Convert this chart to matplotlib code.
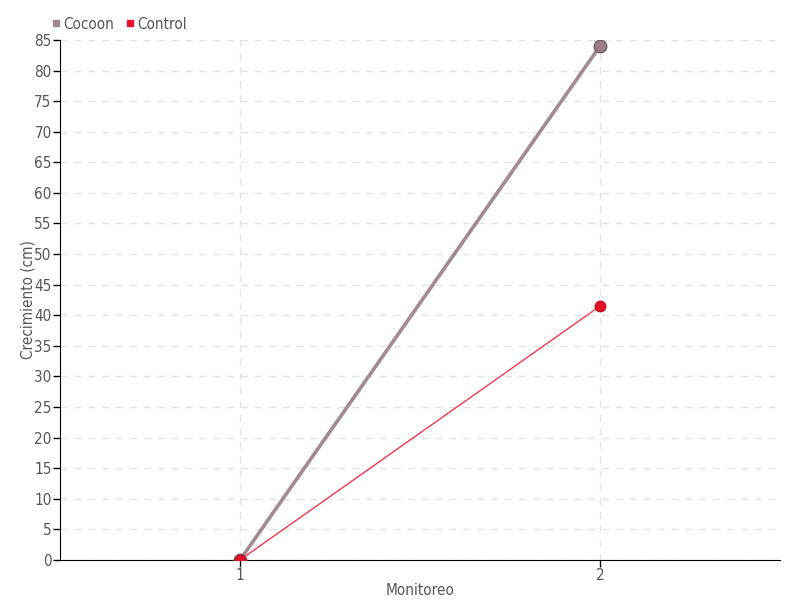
import matplotlib
matplotlib.use("Agg")
import matplotlib.pyplot as plt
from matplotlib.lines import Line2D

plt.rcParams['font.family'] = ['DejaVu Sans', 'Liberation Sans']
plt.rcParams['font.stretch'] = 'condensed'

# data
monitoreo = [1, 2]
cocoon = [0, 84]
control = [0, 41.5]

txt = '#555555'

fig = plt.figure(figsize=(8, 6), dpi=100)
ax = fig.add_axes([0.075, 0.0667, 0.9, 0.8667])

ax.plot(monitoreo, cocoon, color='#a38a92', lw=2.6, marker='o', ms=9,
        mfc='#9a7f88', mec='#6e5a60', mew=1, zorder=3)
ax.plot(monitoreo, control, color='#f3384c', lw=1, marker='o', ms=7.5,
        mfc='#e8102a', mec='#c80c20', mew=1, zorder=4)

ax.set_xlim(0.5, 2.5)
ax.set_ylim(0, 85)
ax.set_xticks(monitoreo)
ax.set_yticks(range(0, 86, 5))
ax.grid(True, color='#e2e2e2', ls=(0, (5, 5)), lw=1)
ax.set_axisbelow(True)

for s in ['top', 'right']:
    ax.spines[s].set_visible(False)
ax.spines['left'].set_color('black')
ax.spines['bottom'].set_color('black')
ax.tick_params(axis='both', colors='black', labelcolor=txt, labelsize=11,
               length=5, width=1, pad=1)

ax.set_xlabel('Monitoreo', color=txt, fontsize=11, labelpad=0)
ax.set_ylabel('Crecimiento (cm)', color=txt, fontsize=11, labelpad=-1)

handles = [Line2D([], [], ls='none', marker='s', ms=5, color='#a08890'),
           Line2D([], [], ls='none', marker='s', ms=5, color='#e8102a')]
fig.legend(handles, ['Cocoon', 'Control'], loc='upper left',
           bbox_to_anchor=(0.045, 0.995), ncol=2, frameon=False,
           handletextpad=0.1, columnspacing=0.6, handlelength=0.8,
           labelcolor=txt, fontsize=11)

fig.savefig('out.png')
